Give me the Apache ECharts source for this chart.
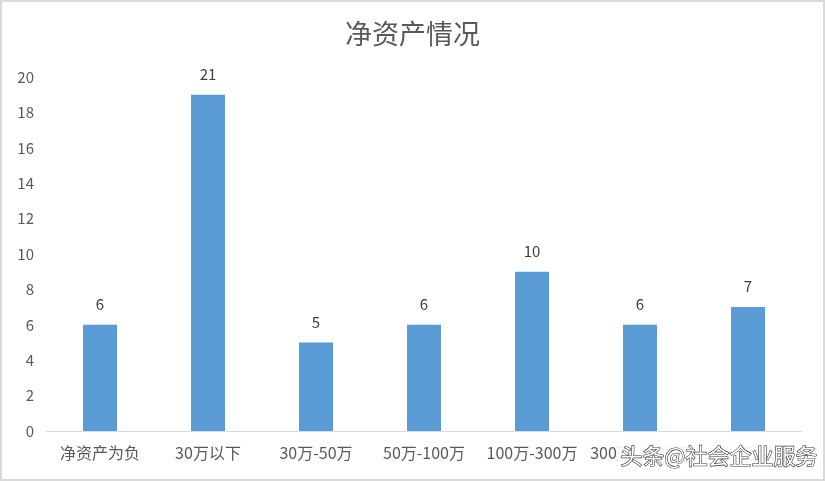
<!DOCTYPE html>
<html><head><meta charset="utf-8">
<script src="https://cdn.jsdelivr.net/npm/echarts@6/dist/echarts.min.js"></script>
<style>html,body{margin:0;padding:0;background:#fff}#c{width:825px;height:481px;box-sizing:border-box;border:2px solid #d9d9d9}</style>
</head><body><div id="c"></div>
<script>
const categories = ['净资产为负','30万以下','30万-50万','50万-100万','100万-300万','300万-1000万','1000万以上'];
const barValues = [6, 19, 5, 6, 9, 6, 7];
const labelValues = [6, 21, 5, 6, 10, 6, 7];
const yTicks = {min: 0, max: 20, interval: 2};

const chart = echarts.init(document.getElementById('c'));
const font = '"Noto Sans CJK SC", "Microsoft YaHei", sans-serif';
chart.setOption({
  animation: false,
  title: {text: '净资产情况', left: 'center', top: 13,
    textStyle: {fontSize: 27, fontWeight: 'normal', color: '#595959', fontFamily: font}},
  grid: {left: 44, right: 21, top: 75, bottom: 48},
  xAxis: {type: 'category', data: categories,
    axisLine: {lineStyle: {color: '#d9d9d9', width: 1}}, axisTick: {show: false},
    axisLabel: {color: '#595959', fontSize: 16, fontFamily: font, margin: 14, interval: 0}},
  yAxis: {type: 'value', min: yTicks.min, max: yTicks.max, interval: yTicks.interval,
    splitLine: {show: false}, axisLine: {show: false}, axisTick: {show: false},
    axisLabel: {color: '#595959', fontSize: 15, fontFamily: font, margin: 12}},
  series: [{type: 'bar', barWidth: 34,
    data: barValues.map((v, i) => ({value: v, label: {formatter: String(labelValues[i])}})),
    itemStyle: {color: '#5B9BD5'},
    label: {show: true, position: 'top', distance: 13, color: '#404040', fontSize: 15, fontFamily: font}}],
  graphic: [
    {type: 'rect', left: 616, top: 440, shape: {width: 198, height: 30}, style: {fill: 'rgba(255,255,255,0.92)'}, z: 100},
    {type: 'text', left: 618, top: 442, z: 101,
      style: {text: '头条@社会企业服务', fontSize: 22, fontFamily: font, fill: '#ffffff', stroke: '#333333', lineWidth: 1.2}}]
});
</script></body></html>
